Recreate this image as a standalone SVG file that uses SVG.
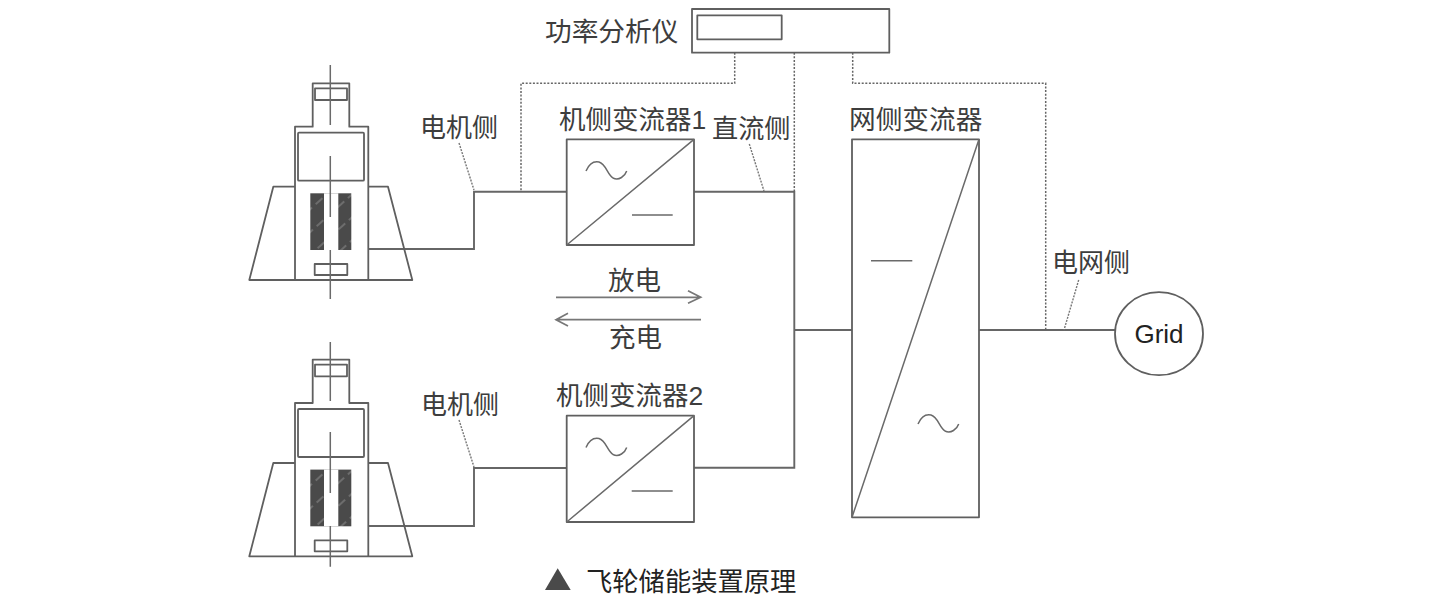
<svg xmlns="http://www.w3.org/2000/svg" width="1440" height="613" viewBox="0 0 1440 613">
<style>
text{font-family:"Noto Sans CJK SC","Liberation Sans",sans-serif;fill:#3d3d3d}
.s{fill:none;stroke:#5f5f5f;stroke-width:1.8;stroke-linejoin:round}
.t{fill:none;stroke:#6a6a6a;stroke-width:1.5}
.d{fill:none;stroke:#666;stroke-width:1.5;stroke-dasharray:2 1.6}
.l{fill:none;stroke:#777;stroke-width:1.4;stroke-dasharray:2 1.2}
.c{fill:none;stroke:#666;stroke-width:1.9}
.a{fill:none;stroke:#777;stroke-width:1.7}
</style>
<defs>
<pattern id="hatch" width="14" height="17" patternUnits="userSpaceOnUse" patternTransform="rotate(-42)">
<rect width="14" height="17" fill="#4a4a4a"/>
<line x1="0" y1="6" x2="9" y2="6" stroke="#8f8f8f" stroke-width="1"/>
</pattern>
<g id="motor">
<path class="s" d="M295 280V126.700H312.700V83.300H349.300V126.700H368.300V280"/>
<rect class="s" x="298" y="132.700" width="66" height="48" rx="1"/>
<rect class="s" x="315" y="88.300" width="32" height="11.700"/>
<path class="s" d="M295 186.700H273.300L249.300 280H412.300L388 186.700H368.300"/>
<rect x="310.300" y="193.300" width="41" height="56.700" fill="url(#hatch)"/>
<rect x="324" y="193.300" width="14.300" height="56.700" fill="#fff"/>
<rect class="s" x="314.700" y="264" width="32.600" height="11"/>
</g>
<path id="sine" class="t" d="M586 171C589 164 594 161 599 162C606 164 607 174 613 178C619 181 625 176 626.700 171"/>
</defs>

<g id="connectors">
<path class="c" d="M368.300 249H474V191.700H566.700"/>
<path class="c" d="M694 191.700H794.300V467.800H694"/>
<path class="c" d="M368.300 526H474V468H566.700"/>
<path class="c" d="M794.300 330H852"/>
<path class="c" d="M979 330H1115"/>
<path class="d" d="M734.700 52.700V83.300H521V191.700"/>
<path class="d" d="M794.300 52.700V191.700"/>
<path class="d" d="M852.700 52.700V83.300H1045.700V330"/>
<path class="l" d="M459 143L474 190"/>
<path class="l" d="M459 420L474 467"/>
<path class="l" d="M749.300 144L764 191"/>
<path class="l" d="M1078.700 280L1064 330"/>
<path class="a" d="M556 297.300H700.700M688 290.700L700.700 297.300L688 303.300"/>
<path class="a" d="M701 319.700H556M568 313.300L556 319.700L568 326"/>
</g>

<g id="motor-1">
<use href="#motor"/>
<path class="t" d="M330.300 65V125M330.300 156V217M330.300 250V299"/>
</g>
<g id="motor-2">
<use href="#motor" y="276.300"/>
<path class="t" d="M330.300 342V401M330.300 432V493M330.300 526V566.700"/>
</g>

<g id="analyzer">
<rect class="s" x="692" y="9" width="197.300" height="43.700"/>
<rect class="s" x="697.300" y="15.300" width="84.400" height="24"/>
<text x="545" y="40.500" font-size="26.700">功率分析仪</text>
</g>

<g id="converter-1">
<rect class="s" x="566.700" y="139.300" width="127.300" height="105.700"/>
<path class="t" d="M566.700 245L694 139.300M632 215H672.700"/>
<use href="#sine"/>
<text x="559" y="129" font-size="26.500">机侧变流器<tspan style="font-family:'Liberation Sans',sans-serif">1</tspan></text>
</g>
<g id="converter-2">
<rect class="s" x="566.700" y="415.700" width="127.300" height="106.300"/>
<path class="t" d="M566.700 522L694 415.700M631.700 491H672.700"/>
<use href="#sine" y="276.500"/>
<text x="556" y="404.500" font-size="26.500">机侧变流器<tspan style="font-family:'Liberation Sans',sans-serif">2</tspan></text>
</g>
<g id="grid-converter">
<rect class="s" x="852" y="139.300" width="127" height="378"/>
<path class="t" d="M852 517.300L979 139.300M871 260.700H912.300"/>
<use href="#sine" x="332" y="253"/>
<text x="849" y="129" font-size="26.700">网侧变流器</text>
</g>
<g id="grid">
<ellipse class="s" cx="1159" cy="333.700" rx="44" ry="41.500"/>
<text x="1159" y="343" font-size="26" text-anchor="middle" style="font-family:'Liberation Sans',sans-serif;fill:#222">Grid</text>
</g>

<g id="labels">
<text x="420" y="137" font-size="26">电机侧</text>
<text x="421" y="414" font-size="26">电机侧</text>
<text x="712" y="138" font-size="26.200">直流侧</text>
<text x="1052" y="272" font-size="26">电网侧</text>
<text x="608" y="289.500" font-size="26.500">放电</text>
<text x="609" y="346.500" font-size="26.500">充电</text>
</g>

<g id="caption">
<polygon points="545,590 570.700,590 557.700,568.300" fill="#4a4a4a"/>
<text x="586" y="591" font-size="26.300" style="fill:#222">飞轮储能装置原理</text>
</g>
</svg>
